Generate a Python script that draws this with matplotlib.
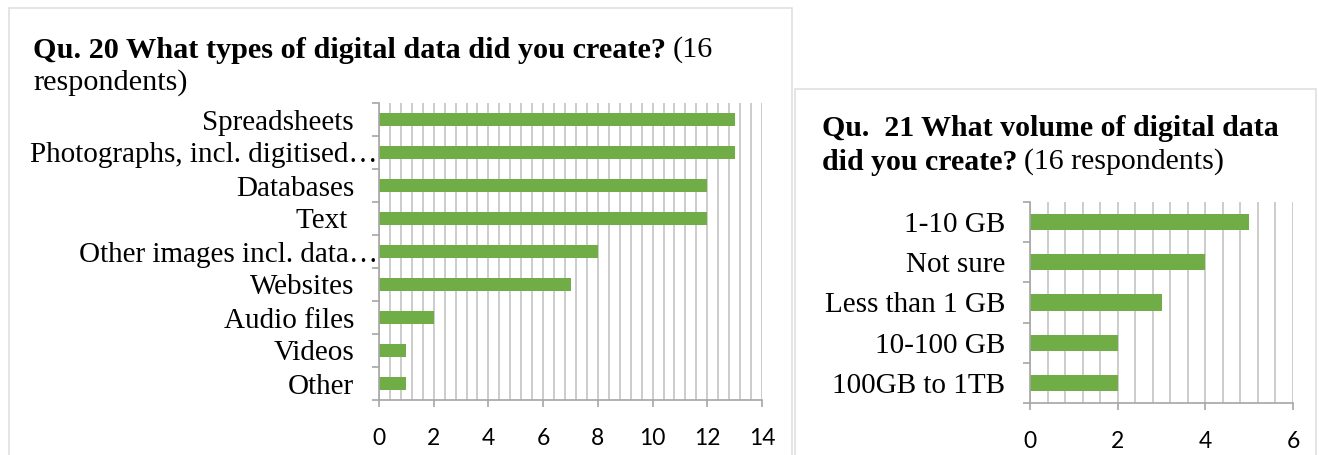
import numpy as np
import matplotlib
matplotlib.use("Agg")
import matplotlib.pyplot as plt
import matplotlib.transforms as mtransforms
from matplotlib.patches import Rectangle

# data
types_labels = ["Spreadsheets", "Photographs, incl. digitised\u2026", "Databases", "Text ",
                "Other images incl. data\u2026", "Websites", "Audio files", "Videos", "Other"]
types_values = [13, 13, 12, 12, 8, 7, 2, 1, 1]

volume_labels = ["1-10 GB", "Not sure", "Less than 1 GB", "10-100 GB", "100GB to 1TB"]
volume_values = [5, 4, 3, 2, 2]

W, H = 1319, 455
BAR = "#70AD47"
GRID = "#c8c8c8"
SERIF = "Liberation Serif"
SANS = "Lato"

fig = plt.figure(figsize=(W / 100, H / 100), dpi=100)
fig.patch.set_facecolor("white")


def px_axes(x0, y0, x1, y1):
    # pixel box (top-left origin) -> figure axes
    return fig.add_axes([x0 / W, (H - y1) / H, (x1 - x0) / W, (y1 - y0) / H])


def panel(x0, y0, x1, y1):
    fig.patches.append(Rectangle((x0 / W, (H - y1) / H), (x1 - x0) / W, (y1 - y0) / H,
                                 transform=fig.transFigure, fill=False,
                                 edgecolor="#e0e0e0", linewidth=1.2))


def bar_chart(ax, labels, values, xmax):
    n = len(labels)
    y = np.arange(n)
    ax.barh(y, values, height=0.4, color=BAR, zorder=3)
    ax.set_ylim(n - 0.5, -0.5)
    ax.set_xlim(0, xmax)
    # grid every 0.4
    for gx in np.arange(0, xmax + 0.001, 0.4):
        ax.axvline(round(gx, 4), color=GRID, linewidth=1.3, zorder=1)
    ax.set_xticks(np.arange(0, xmax + 1, 2))
    ax.set_xticklabels([str(v) for v in range(0, xmax + 1, 2)], fontsize=16.5,
                       family=SANS)
    ax.tick_params(axis="x", length=5, color="#a6a6a6", width=1.2, pad=15)
    ax.set_yticks(np.arange(-0.5, n, 1.0))
    ax.set_yticklabels([])
    ax.tick_params(axis="y", which="major", length=5, color="#a6a6a6", width=1.2)
    ax.set_yticks(y, minor=True)
    ticklabels = ax.set_yticklabels(labels, minor=True, fontsize=21, family=SERIF)
    ax.tick_params(axis="y", which="minor", length=0, pad=18)
    # truncated labels in the original run past the label column
    shift = mtransforms.ScaledTranslation(24 / 100, 0, fig.dpi_scale_trans)
    for t in ticklabels:
        if t.get_text().endswith("\u2026"):
            t.set_transform(t.get_transform() + shift)
    for s in ["top", "right"]:
        ax.spines[s].set_visible(False)
    for s in ["left", "bottom"]:
        ax.spines[s].set_color("#a6a6a6")
        ax.spines[s].set_linewidth(1.2)
        ax.spines[s].set_zorder(4)


panel(9, 8, 792, 470)
panel(795, 89, 1316, 470)

ax1 = px_axes(379, 103, 762, 400)
bar_chart(ax1, types_labels, types_values, 14)

ax2 = px_axes(1030, 202, 1293, 403)
bar_chart(ax2, volume_labels, volume_values, 6)

renderer = fig.canvas.get_renderer()


def title_line(x, y, bold, normal, size=21.8):
    t = fig.text(x / W, 1 - y / H, bold, fontsize=size, family=SERIF,
                 fontweight="bold", va="center", ha="left")
    if normal:
        bb = t.get_window_extent(renderer)
        fig.text((bb.x1 + 7) / W, 1 - y / H, normal, fontsize=size, family=SERIF,
                 va="center", ha="left")


title_line(33, 50, "Qu. 20 What types of digital data did you create?", "(16")
fig.text(33 / W, 1 - 83 / H, "respondents)", fontsize=21.8, family=SERIF,
         va="center", ha="left")

title_line(822, 128, "Qu.  21 What volume of digital data", None, size=21.5)
title_line(822, 162, "did you create?", "(16 respondents)", size=21.5)

fig.savefig("out.png", dpi=100, facecolor="white")
